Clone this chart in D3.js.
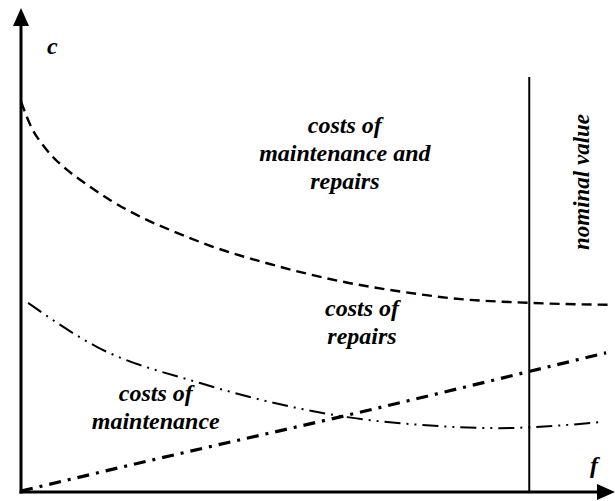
<!DOCTYPE html>
<html>
<head>
    <meta charset="utf-8">
    <title>Costs vs frequency</title>
    <script src="https://d3js.org/d3.v7.min.js"></script>
    <style>
        body { margin: 0; background: #fff; }
    </style>
</head>
<body>
    <script>
        // values (f and c in arbitrary units, 0..10)
        var totalF = [0, 0.20, 0.37, 0.54, 0.78, 1.12, 1.51, 2.06, 2.64, 3.20, 4.21, 5.57, 6.46, 7.26, 8.61, 9.97];
        var totalC = [8.13, 7.54, 7.23, 6.98, 6.71, 6.40, 6.08, 5.71, 5.40, 5.13, 4.75, 4.35, 4.17, 4.04, 3.94, 3.90];
        var fallF = [0.12, 1.29, 3.03, 4.67, 5.52, 6.75, 8.10, 8.63, 9.85];
        var fallC = [3.94, 3.02, 2.27, 1.75, 1.56, 1.40, 1.33, 1.35, 1.46];
        var riseF = [0, 2.23, 5.52, 8.63, 9.9];
        var riseC = [0.02, 0.67, 1.60, 2.52, 2.9];
        var nominalF = 8.6;
        var labels = [
            { lines: ["costs of", "maintenance and", "repairs"], f: 5.48, c: 7.48 },
            { lines: ["costs of", "repairs"], f: 5.77, c: 3.67 },
            { lines: ["costs of", "maintenance"], f: 2.28, c: 1.90 }
        ];

        var width = 615;
        var height = 501;

        var x = d3.scaleLinear().domain([0, 10]).range([21, 612]);
        var y = d3.scaleLinear().domain([0, 10]).range([492, 12]);

        var svg = d3.select("body").append("svg")
            .attr("width", width)
            .attr("height", height);

        var line = d3.line()
            .x(function(d) { return x(d[0]); })
            .y(function(d) { return y(d[1]); })
            .curve(d3.curveMonotoneX);

        svg.append("path")
            .datum(d3.zip(totalF, totalC))
            .attr("d", line)
            .attr("fill", "none")
            .attr("stroke", "#000")
            .attr("stroke-width", 2.4)
            .attr("stroke-dasharray", "10,6");

        svg.append("path")
            .datum(d3.zip(fallF, fallC))
            .attr("d", line)
            .attr("fill", "none")
            .attr("stroke", "#000")
            .attr("stroke-width", 2)
            .attr("stroke-dasharray", "16,6,2,6,2,6");

        svg.append("path")
            .datum(d3.zip(riseF, riseC))
            .attr("d", line)
            .attr("fill", "none")
            .attr("stroke", "#000")
            .attr("stroke-width", 3.2)
            .attr("stroke-dasharray", "12,7,3,7");

        // nominal value line
        svg.append("line")
            .attr("x1", x(nominalF)).attr("x2", x(nominalF))
            .attr("y1", 77).attr("y2", y(0))
            .attr("stroke", "#000")
            .attr("stroke-width", 2);

        // axes with arrows
        var x0 = x(0), y0 = y(0);
        svg.append("line")
            .attr("x1", x0).attr("y1", y0 + 1.5).attr("x2", x0).attr("y2", 24)
            .attr("stroke", "#000").attr("stroke-width", 3);
        svg.append("line")
            .attr("x1", x0 - 1.5).attr("y1", y0).attr("x2", 600).attr("y2", y0)
            .attr("stroke", "#000").attr("stroke-width", 3);
        svg.append("path")
            .attr("d", "M" + x0 + ",8L" + (x0 - 8) + ",26L" + (x0 + 8) + ",26Z")
            .attr("fill", "#000");
        svg.append("path")
            .attr("d", "M615," + y0 + "L597," + (y0 - 8) + "L597," + (y0 + 8) + "Z")
            .attr("fill", "#000");

        function label(sel, size) {
            return sel.style("font-family", "'Liberation Serif'")
                .style("font-weight", "bold")
                .style("font-style", "italic")
                .style("font-size", size + "px")
                .attr("fill", "#000");
        }

        label(svg.append("text"), 24).attr("x", 47).attr("y", 54).text("c");
        label(svg.append("text"), 24).attr("x", 590).attr("y", 473).text("f");

        label(svg.append("text"), 23)
            .attr("transform", "translate(589,182) rotate(-90)")
            .attr("text-anchor", "middle")
            .text("nominal value");

        labels.forEach(function(l) {
            var t = label(svg.append("text"), 24)
                .attr("text-anchor", "middle");
            l.lines.forEach(function(s, i) {
                t.append("tspan")
                    .attr("x", x(l.f))
                    .attr("y", y(l.c) + i * 28)
                    .text(s);
            });
        });
    </script>
</body>
</html>
